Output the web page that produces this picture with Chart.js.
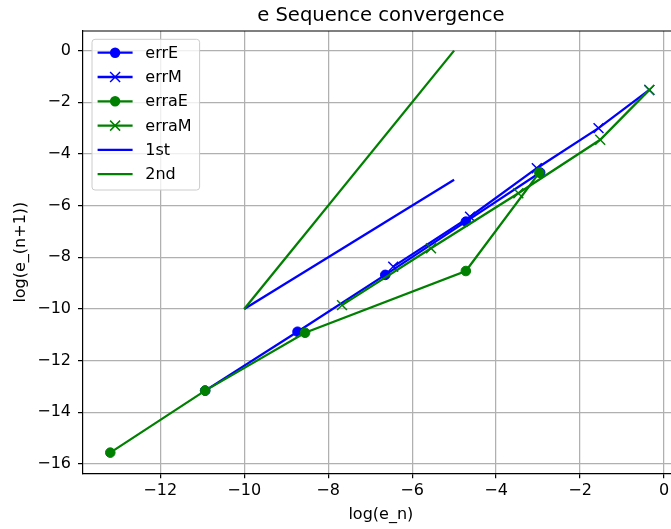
<!DOCTYPE html>
<html>
<head>
<meta charset="utf-8">
<script src="https://cdn.jsdelivr.net/npm/chart.js@4"></script>
<style>
  html, body { margin: 0; padding: 0; background: #fff; overflow: hidden; width: 671px; height: 529px; }
  canvas { display: block; }
</style>
</head>
<body>
<canvas id="chart" width="700" height="529"></canvas>
<script>
// log(e_n) against log(e_(n+1))
const errEX = [-2.95, -4.72, -6.64, -8.73, -10.93];
const errEY = [-4.72, -6.62, -8.68, -10.88, -13.16];
const errMX = [-0.35, -1.56, -3.03, -4.62, -6.45];
const errMY = [-1.52, -3.0, -4.55, -6.43, -8.36];
const erraEX = [-2.97, -4.72, -8.55, -10.93, -13.19];
const erraEY = [-4.72, -8.53, -10.92, -13.16, -15.56];
const erraMX = [-0.35, -1.52, -3.47, -5.55, -7.67];
const erraMY = [-1.52, -3.45, -5.52, -7.65, -9.85];
// reference slopes
const firstX = [-10, -5];
const firstY = [-10, -5];
const secondX = [-10, -5];
const secondY = [-10, 0];

const xTicks = [-12, -10, -8, -6, -4, -2, 0];
const yTicks = [0, -2, -4, -6, -8, -10, -12, -14, -16];

const FONT = '"DejaVu Sans", sans-serif';
const BLUE = '#0000ff';
const GREEN = '#008000';

const pts = (xs, ys) => xs.map((x, i) => ({ x: x, y: ys[i] }));
const minus = (v) => (v < 0 ? '\u2212' + Math.abs(v) : String(v));

function series(label, xs, ys, color, marker, order) {
  return {
    label: label,
    data: pts(xs, ys),
    showLine: true,
    borderColor: color,
    backgroundColor: color,
    borderWidth: 2.3,
    pointStyle: marker || 'circle',
    pointRadius: marker === 'crossRot' ? 7 : (marker ? 4.8 : 0),
    pointBorderWidth: marker === 'crossRot' ? 1.5 : 1,
    pointBorderColor: color,
    pointBackgroundColor: color,
    marker: marker,
    order: order
  };
}

// matplotlib-like title, top spine and legend box
const decor = {
  id: 'decor',
  afterDraw(chart) {
    const { ctx, chartArea: a } = chart;
    ctx.save();
    ctx.fillStyle = '#000';
    ctx.font = '19.6px ' + FONT;
    ctx.textAlign = 'center';
    ctx.textBaseline = 'alphabetic';
    ctx.fillText('e Sequence convergence', (a.left + a.right) / 2, a.top - 10);

    ctx.strokeStyle = '#000';
    ctx.lineWidth = 1.2;
    ctx.beginPath();
    ctx.moveTo(a.left, a.top);
    ctx.lineTo(a.right, a.top);
    ctx.stroke();

    const x0 = a.left + 9, y0 = a.top + 8.3, w = 107.6, h = 150.7;
    ctx.beginPath();
    ctx.roundRect(x0, y0, w, h, 3);
    ctx.fillStyle = 'rgba(255,255,255,0.8)';
    ctx.fill();
    ctx.strokeStyle = '#cccccc';
    ctx.lineWidth = 1;
    ctx.stroke();

    ctx.font = '16px ' + FONT;
    ctx.textAlign = 'left';
    ctx.textBaseline = 'middle';
    chart.data.datasets.forEach((ds, i) => {
      const y = y0 + 13.4 + i * 24.3;
      const cx = x0 + 23.1;
      ctx.strokeStyle = ds.borderColor;
      ctx.fillStyle = ds.borderColor;
      ctx.lineWidth = 2.3;
      ctx.beginPath();
      ctx.moveTo(x0 + 5.6, y);
      ctx.lineTo(x0 + 40.6, y);
      ctx.stroke();
      if (ds.marker === 'circle') {
        ctx.beginPath();
        ctx.arc(cx, y, 5.2, 0, Math.PI * 2);
        ctx.fill();
      } else if (ds.marker === 'crossRot') {
        const r = 5;
        ctx.lineWidth = 1.5;
        ctx.beginPath();
        ctx.moveTo(cx - r, y - r); ctx.lineTo(cx + r, y + r);
        ctx.moveTo(cx + r, y - r); ctx.lineTo(cx - r, y + r);
        ctx.stroke();
      }
      ctx.fillStyle = '#000';
      ctx.fillText(ds.label, x0 + 53.3, y + 1);
    });
    ctx.restore();
  }
};

const tickFont = { family: FONT, size: 16 };

new Chart(document.getElementById('chart'), {
  type: 'scatter',
  data: {
    datasets: [
      series('errE', errEX, errEY, BLUE, 'circle', 5),
      series('errM', errMX, errMY, BLUE, 'crossRot', 4),
      series('erraE', erraEX, erraEY, GREEN, 'circle', 3),
      series('erraM', erraMX, erraMY, GREEN, 'crossRot', 2),
      series('1st', firstX, firstY, BLUE, null, 1),
      series('2nd', secondX, secondY, GREEN, null, 0)
    ]
  },
  options: {
    responsive: false,
    animation: false,
    devicePixelRatio: 1,
    events: [],
    layout: { padding: { top: 31, right: 21.3, bottom: 0, left: 0 } },
    plugins: {
      legend: { display: false },
      title: { display: false },
      tooltip: { enabled: false }
    },
    scales: {
      x: {
        type: 'linear',
        min: -13.84,
        max: 0.35,
        afterBuildTicks: (scale) => { scale.ticks = xTicks.map((v) => ({ value: v })); },
        afterFit: (scale) => { scale.height = 55.7; },
        grid: { color: '#b0b0b0', lineWidth: 1.25, tickColor: '#000', tickWidth: 1.2, tickLength: 5 },
        border: { color: '#000', width: 1.2 },
        ticks: { font: tickFont, color: '#000', padding: 3.1, maxRotation: 0, callback: minus },
        title: { display: true, text: 'log(e_n)', font: tickFont, color: '#000', padding: { top: 0, bottom: 4.4 } }
      },
      y: {
        type: 'linear',
        min: -16.36,
        max: 0.76,
        afterBuildTicks: (scale) => { scale.ticks = yTicks.map((v) => ({ value: v })); },
        afterFit: (scale) => { scale.width = 83; },
        grid: { color: '#b0b0b0', lineWidth: 1.25, tickColor: '#000', tickWidth: 1.2, tickLength: 5 },
        border: { color: '#000', width: 1.2 },
        ticks: { font: tickFont, color: '#000', padding: 7, callback: minus },
        title: { display: true, text: 'log(e_(n+1))', font: tickFont, color: '#000', padding: { top: 10.9, bottom: 0 } }
      }
    }
  },
  plugins: [decor]
});
</script>
</body>
</html>
